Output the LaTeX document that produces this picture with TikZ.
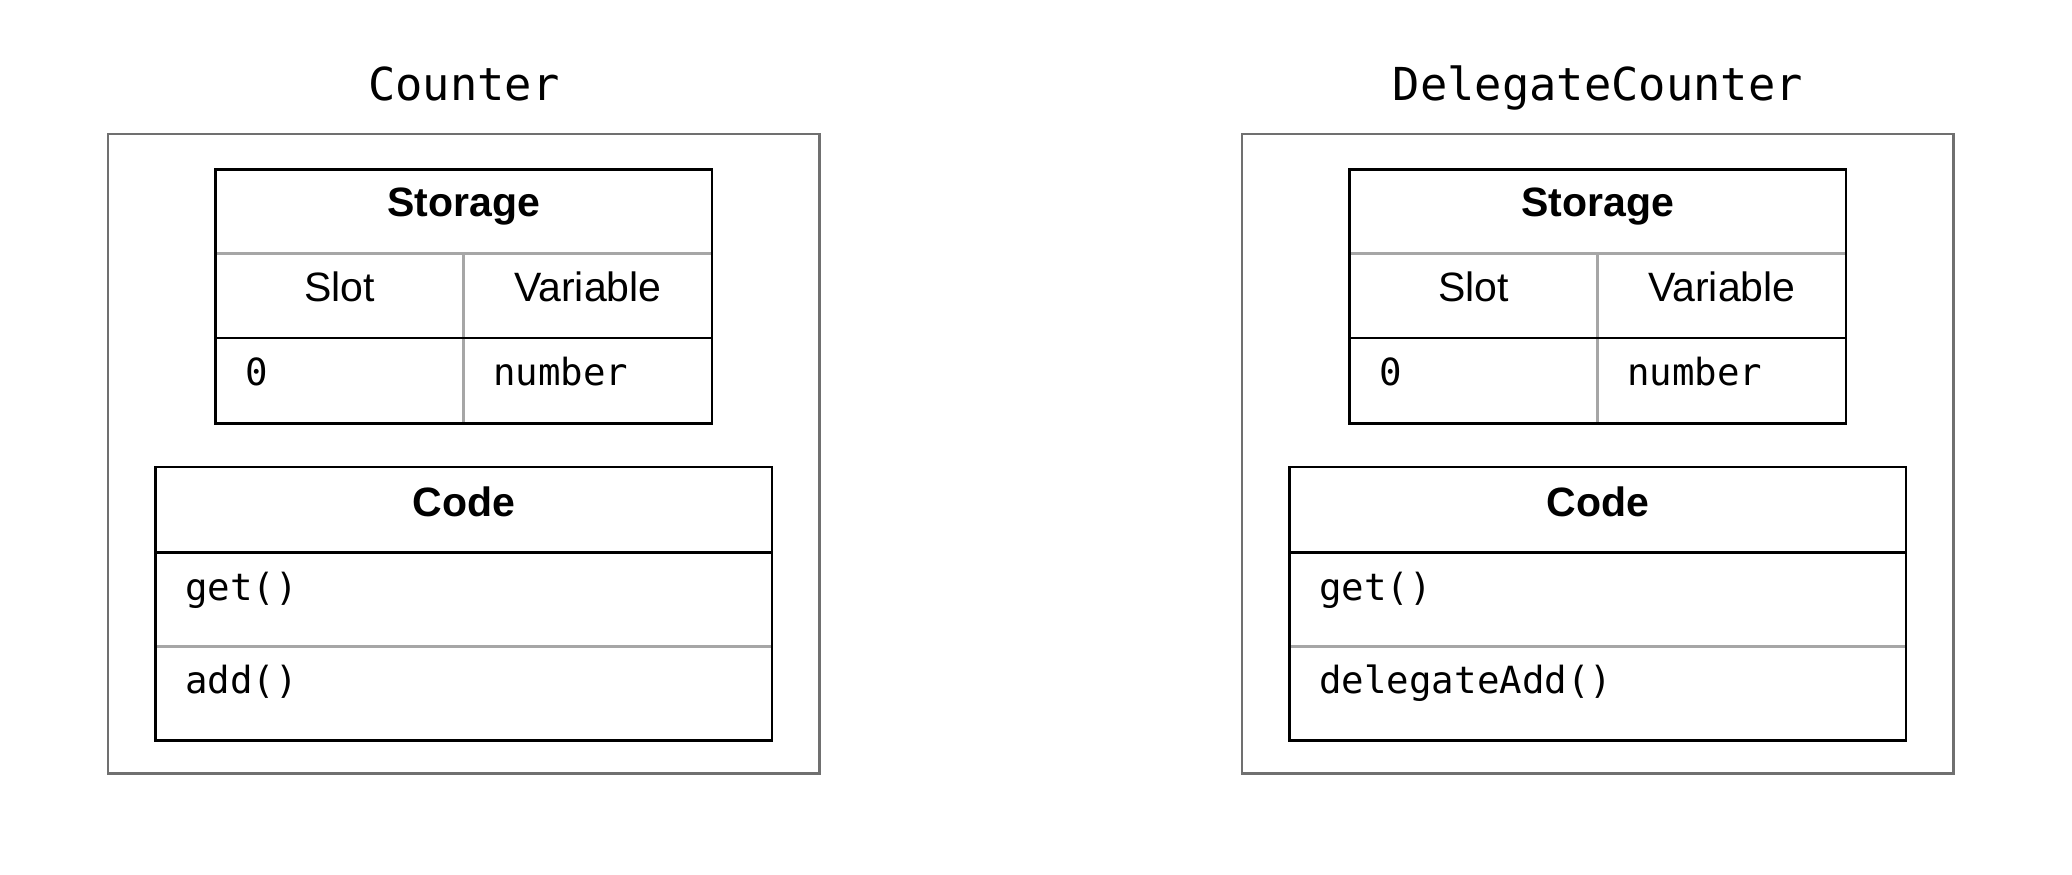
\documentclass[tikz,border=0pt]{standalone}
\usepackage{fontspec}
\setmainfont{Liberation Sans}
\newfontfamily\monofont{DejaVu Sans Mono}
\definecolor{boxgray}{HTML}{707070}
\definecolor{linegray}{HTML}{A6A6A6}
\begin{document}
\begin{tikzpicture}[x=0.5pt,y=-0.5pt,
  outerbox/.style={draw=boxgray,line width=1.35pt},
  tblborder/.style={draw=black,line width=1.35pt},
  thinsep/.style={draw=linegray,line width=1.4pt},
  thicksep/.style={draw=black,line width=1.35pt},
  titletext/.style={font=\monofont\fontsize{22.7}{27}\selectfont,anchor=base,inner sep=0},
  headtext/.style={font=\bfseries\fontsize{20.5}{24}\selectfont,anchor=base,inner sep=0},
  coltext/.style={font=\fontsize{20.5}{24}\selectfont,anchor=base,inner sep=0},
  celltext/.style={font=\monofont\fontsize{18.7}{22}\selectfont,anchor=base west,inner sep=0}]
\useasboundingbox[fill=white] (0,0) rectangle (2072,874);
\foreach \dx/\p/\cname/\meth in {0/L/{Counter}/{add()},1134/R/{DelegateCounter}/{delegateAdd()}}{
  \begin{scope}[xshift=\dx*0.5pt]
    % title
    \node[titletext] (title\p) at (463.7,100) {\cname};
    % outer box
    \draw[outerbox] (108,134) rectangle (819.7,773.7);
    % storage table
    \draw[thinsep] (215.7,253.7) -- (712,253.7);
    \draw[thinsep] (463.7,253.7) -- (463.7,423.5);
    \draw[thicksep] (215.7,338) -- (712,338);
    \draw[tblborder] (215.7,169.7) rectangle (712,423.5);
    \node[headtext] (storage\p) at (463.85,216.7) {Storage};
    \node[coltext] (slot\p) at (339.7,301.7) {Slot};
    \node[coltext] (variable\p) at (587.9,301.7) {Variable};
    \node[celltext] (zero\p) at (245,385.7) {0};
    \node[celltext] (number\p) at (493,385.7) {number};
    % code table
    \draw[thinsep] (155.3,646.3) -- (772,646.3);
    \draw[thicksep] (155.3,552.7) -- (772,552.7);
    \draw[tblborder] (155.3,467) rectangle (772,740.7);
    \node[headtext] (code\p) at (463.65,516) {Code};
    \node[celltext] (get\p) at (185,600) {get()};
    \node[celltext] (meth\p) at (185,693) {\meth};
  \end{scope}
}
\end{tikzpicture}
\end{document}
